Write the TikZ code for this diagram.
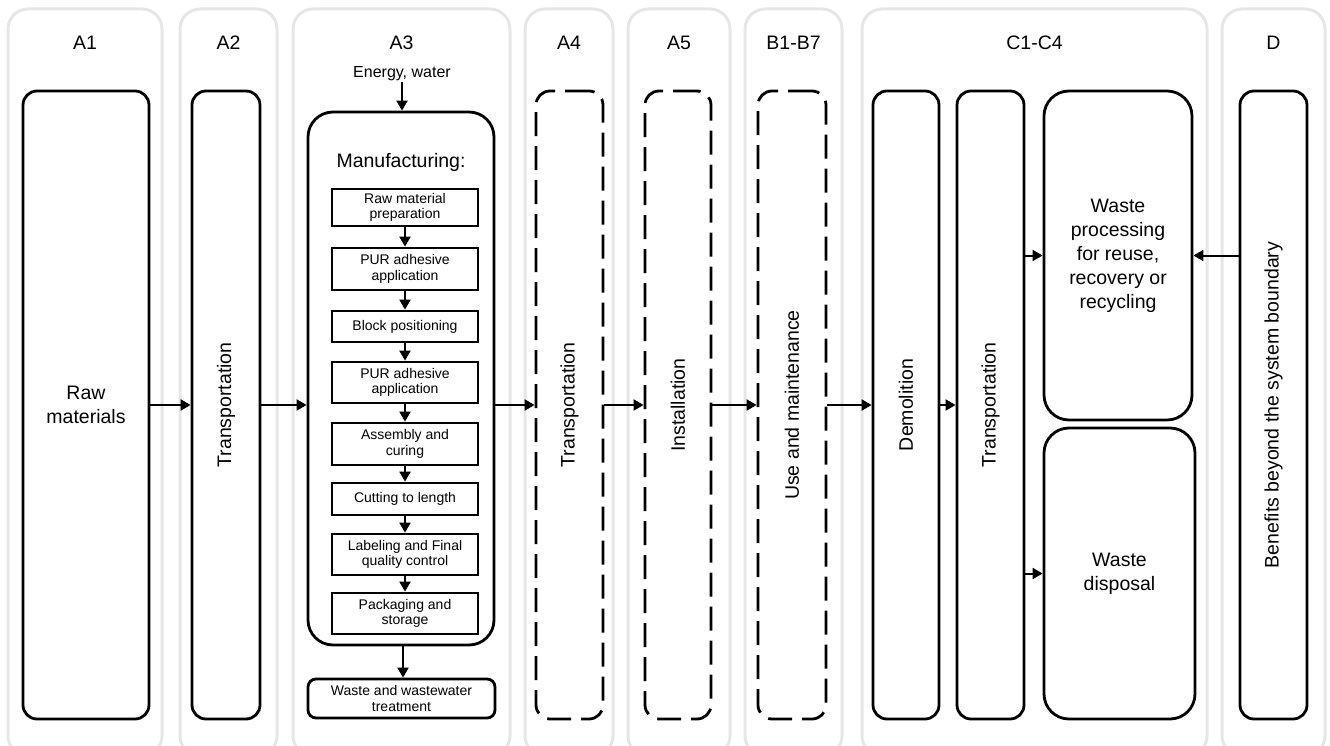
\documentclass[tikz,border=0pt]{standalone}
\usepackage{fontspec}
\setmainfont{Liberation Sans}
\usetikzlibrary{arrows.meta}
\definecolor{panelgray}{HTML}{E6E6E6}
\tikzset{
  panel/.style={draw=panelgray, line width=3pt, rounded corners=20pt},
  hdr/.style={font=\fontsize{19.5}{23}\selectfont, inner sep=0pt},
  box/.style={draw, line width=2.8pt, rounded corners=14pt, inner sep=0pt, font=\fontsize{19.5}{24}\selectfont, align=center},
  bigbox/.style={box, rounded corners=25pt},
  dbox/.style={box, dash pattern=on 24pt off 10pt},
  sub/.style={draw, line width=2.8pt, inner sep=0pt, font=\fontsize{14}{15.5}\selectfont, align=center, minimum width=146pt},
  vtext/.style={rotate=90, font=\fontsize{19.5}{24}\selectfont, inner sep=0pt},
  arr/.style={-{Triangle[length=10pt,width=11pt]}, line width=2pt},
}
\begin{document}
\begin{tikzpicture}[x=1pt,y=-1pt]
\useasboundingbox (0,0) rectangle (1330,746);
% panels
\draw[panel] (8,9) rectangle (162,756);
\draw[panel] (180,9) rectangle (277,756);
\draw[panel] (293,9) rectangle (510,756);
\draw[panel] (525,9) rectangle (613,756);
\draw[panel] (628,9) rectangle (730,756);
\draw[panel] (745,9) rectangle (842,756);
\draw[panel] (862,9) rectangle (1207,756);
\draw[panel] (1222,9) rectangle (1325,756);
% headers
\node[hdr] (hA1) at (85,43) {A1};
\node[hdr] (hA2) at (228.5,43) {A2};
\node[hdr] (hA3) at (401.5,43) {A3};
\node[hdr] (hA4) at (569,43) {A4};
\node[hdr] (hA5) at (679,43) {A5};
\node[hdr] (hB) at (793.5,43) {B1-B7};
\node[hdr] (hC) at (1034.5,43) {C1-C4};
\node[hdr] (hD) at (1273.5,43) {D};
% A1, A2
\node[box, minimum width=126pt, minimum height=628pt] (rm) at (86,405) {Raw\\materials};
\node[box, minimum width=68pt, minimum height=628pt, label={[vtext]center:Transportation}] (t2) at (226,405) {};
% A3
\node[font=\fontsize{16}{18}\selectfont, inner sep=1pt] (energy) at (402,74) {Energy, water};
\node[bigbox, minimum width=186pt, minimum height=533pt] (man) at (401,378.5) {};
\node[font=\fontsize{19.5}{22}\selectfont, inner sep=0pt] (mant) at (401,162) {Manufacturing:};
\node[sub, minimum height=37pt] (s1) at (405,207.5) {Raw material\\preparation};
\node[sub, minimum height=42pt] (s2) at (405,269) {PUR adhesive\\application};
\node[sub, minimum height=31pt] (s3) at (405,326.5) {Block positioning};
\node[sub, minimum height=41pt] (s4) at (405,382.5) {PUR adhesive\\application};
\node[sub, minimum height=42pt] (s5) at (405,444) {Assembly and\\curing};
\node[sub, minimum height=32pt] (s6) at (405,499) {Cutting to length};
\node[sub, minimum height=41pt] (s7) at (405,554.5) {Labeling and Final\\quality control};
\node[sub, minimum height=41pt] (s8) at (405,613.5) {Packaging and\\storage};
\node[box, rounded corners=8pt, minimum width=187pt, minimum height=39pt, font=\fontsize{14}{15.5}\selectfont] (wt) at (401.5,698.5) {Waste and wastewater\\treatment};
% A4, A5, B
\node[dbox, minimum width=67pt, minimum height=628pt, label={[vtext]center:Transportation}] (a4) at (569.5,405) {};
\node[dbox, minimum width=66pt, minimum height=628pt, label={[vtext]center:Installation}] (a5) at (678,405) {};
\node[dbox, minimum width=68pt, minimum height=628pt, label={[vtext]center:Use and maintenance}] (b) at (792,405) {};
% C
\node[box, minimum width=66pt, minimum height=628pt, label={[vtext]center:Demolition}] (dem) at (906,405) {};
\node[box, minimum width=67pt, minimum height=628pt, label={[vtext]center:Transportation}] (tc) at (990.5,405) {};
\node[bigbox, minimum width=148pt, minimum height=329pt] (wp) at (1118,255.5) {Waste\\processing\\for reuse,\\recovery or\\recycling};
\node[bigbox, minimum width=151pt, minimum height=291pt] (wd) at (1119.5,573.5) {Waste\\disposal};
% D
\node[box, minimum width=67pt, minimum height=628pt, label={[vtext]center:Benefits beyond the system boundary}] (db) at (1273.5,405) {};
% connectors
\draw[arr] (energy.south) -- (energy.south |- man.north);
\draw[arr] (s1) -- (s2);
\draw[arr] (s2) -- (s3);
\draw[arr] (s3) -- (s4);
\draw[arr] (s4) -- (s5);
\draw[arr] (s5) -- (s6);
\draw[arr] (s6) -- (s7);
\draw[arr] (s7) -- (s8);
\draw[arr] (man.south -| 403,0) -- (wt.north -| 403,0);
\draw[arr] (rm) -- (t2);
\draw[arr] (t2.east) -- (man.west |- t2.east);
\draw[arr] (man.east |- a4.west) -- (a4.west);
\draw[arr] (a4) -- (a5);
\draw[arr] (a5) -- (b);
\draw[arr] (b) -- (dem);
\draw[arr] (dem) -- (tc);
\draw[arr] (tc.east |- wp.west) -- (wp.west);
\draw[arr] (tc.east |- wd.west) -- (wd.west);
\draw[arr] (db.west |- wp.east) -- (wp.east);
\end{tikzpicture}
\end{document}
